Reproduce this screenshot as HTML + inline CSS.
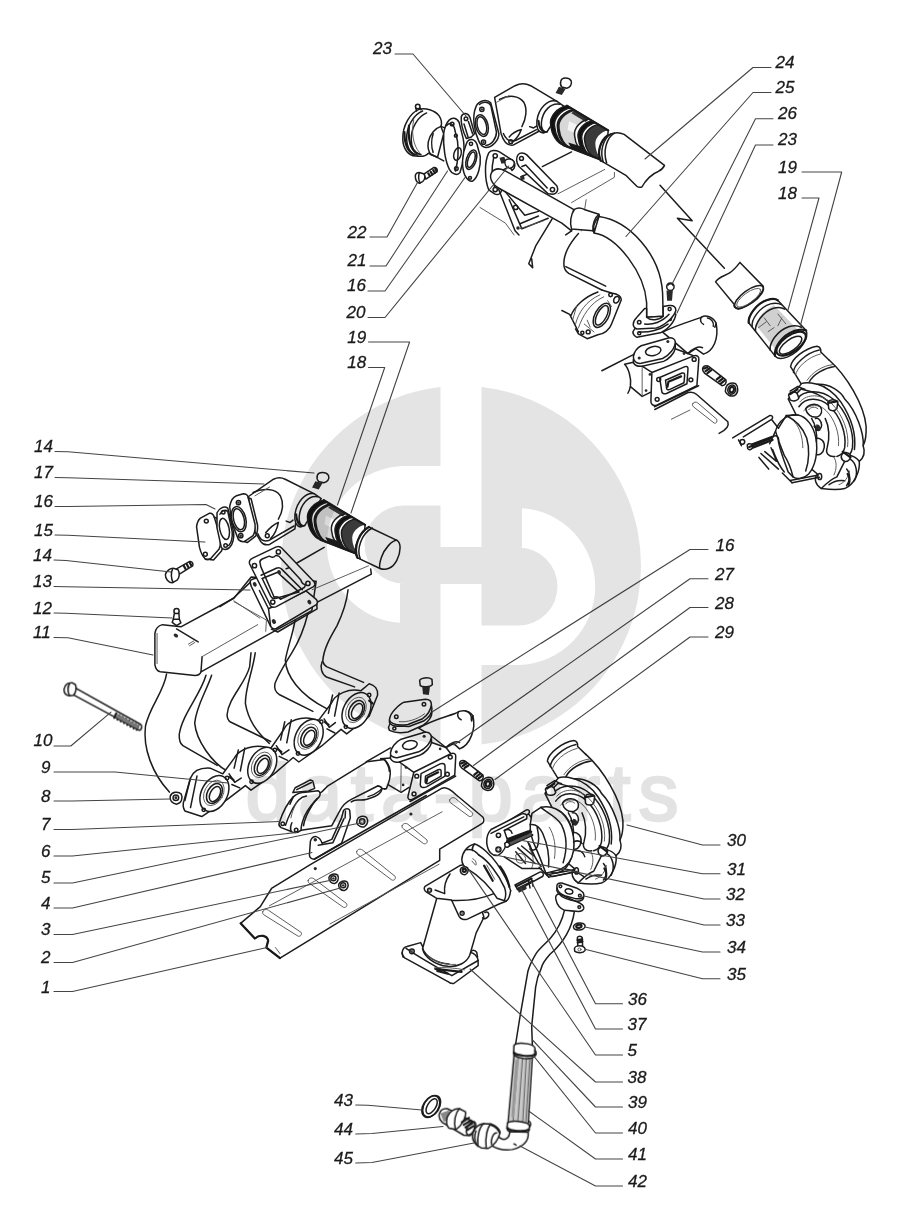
<!DOCTYPE html>
<html lang="ru">
<head>
<meta charset="utf-8">
<title>Parts diagram</title>
<style>
html,body{margin:0;padding:0;background:#fff;}
body{width:924px;height:1232px;overflow:hidden;font-family:"Liberation Sans",sans-serif;}
svg{display:block;position:absolute;left:0;top:0;}
.lbl text{font-family:"Liberation Sans",sans-serif;font-style:italic;font-size:17px;fill:#1a1a1a;stroke:#1a1a1a;stroke-width:0.3;}
.ld{fill:none;stroke:#444;stroke-width:1.1;stroke-linecap:round;stroke-linejoin:round;}
.p{fill:none;stroke:#1c1c1c;stroke-width:1.5;stroke-linecap:round;stroke-linejoin:round;}
.pw{fill:#fff;stroke:#1c1c1c;stroke-width:1.5;stroke-linecap:round;stroke-linejoin:round;}
.t{fill:none;stroke:#555;stroke-width:0.95;stroke-linecap:round;stroke-linejoin:round;}
.k{fill:#2a2a2a;stroke:none;}
.z path,.z circle,.z ellipse,.z line,.z polyline,.z rect{vector-effect:non-scaling-stroke;}
.g{fill:#bdbdbd;stroke:#2a2a2a;stroke-width:1.1;}
.b{fill:none;stroke:#1a1a1a;stroke-width:2.2;stroke-linecap:round;stroke-linejoin:round;}
.wm{font-family:"Liberation Sans",sans-serif;font-size:80px;fill:#e3e3e3;stroke:#e3e3e3;stroke-width:2.5;}
</style>
</head>
<body>
<svg width="924" height="1232" viewBox="0 0 924 1232">
<g id="art" style="filter:blur(0.55px)">
<!-- 10_topleft.svg -->
<g class="z" transform="translate(395,85) scale(0.16234)">
<!-- cap / valve 21 -->
<path class="pw" d="M148 150 C95 170 45 250 48 335 C50 395 85 440 130 437 C160 442 192 436 205 420 L222 428 L262 445 L300 300 L283 255 C290 235 285 210 272 190 C245 155 185 138 148 150Z"/>
<path class="p" d="M170 160 C118 180 68 255 72 335 C74 390 100 428 140 432"/>
<path class="p" d="M195 172 C140 195 98 265 100 335 C100 385 120 420 160 428"/>
<path class="b" d="M58 290 C58 360 80 412 118 430"/>
<path class="b" d="M86 250 C80 330 95 395 135 422"/>
<path class="t" d="M115 215 C100 290 110 370 150 415"/>
<path class="p" d="M283 255 C250 265 215 300 205 350 C200 385 205 410 222 428"/>
<path class="p" d="M235 300 C225 330 222 380 235 415"/>
<circle class="pw" cx="140" cy="132" r="14"/>
<path class="p" d="M128 142 L133 160 M153 140 L160 153"/>
<!-- neck to flange -->
<path class="p" d="M283 255 L335 275"/>
<path class="p" d="M222 428 C245 440 270 450 300 468"/>
<!-- flange 1 (on valve) -->
<path class="pw" d="M335 215 C350 198 380 200 395 230 L420 330 C430 380 425 470 400 540 C385 560 350 550 335 520 C310 470 295 380 300 300 C305 260 320 230 335 215Z"/>
<path class="p" d="M318 250 C335 230 355 235 365 262 L385 345 C392 400 388 470 372 530"/>
<circle class="p" cx="352" cy="240" r="11"/>
<circle class="p" cx="375" cy="312" r="9"/>
<circle class="p" cx="378" cy="515" r="11"/>
<ellipse class="p" cx="385" cy="425" rx="22" ry="40" transform="rotate(15 385 425)"/>
<!-- gasket 23 small top -->
<path class="pw" d="M408 195 C420 165 450 170 462 200 L490 300 L470 320 L440 330 C425 300 405 240 408 195Z"/>
<circle class="p" cx="437" cy="208" r="11"/>
<path class="p" d="M425 240 L450 320 M452 225 L478 300"/>
<!-- gasket 16 -->
<path class="pw" d="M440 360 C455 325 490 330 505 365 L525 440 C530 500 510 570 480 590 C465 600 445 585 430 555 C410 510 410 430 440 360Z"/>
<ellipse class="p" cx="470" cy="460" rx="30" ry="62" transform="rotate(18 470 460)"/>
<ellipse class="p" cx="470" cy="460" rx="20" ry="50" transform="rotate(18 470 460)"/>
<circle class="p" cx="468" cy="362" r="10"/>
<circle class="p" cx="462" cy="572" r="9"/>
<!-- big flange on elbow -->
<path class="pw" d="M500 130 C520 95 565 85 590 110 L640 300 C640 340 600 385 560 385 C545 385 525 370 518 350 C490 290 470 200 500 130Z"/>
<path class="p" d="M520 120 C540 100 575 100 590 125 L625 290 C625 330 595 370 560 372"/>
<ellipse class="p" cx="535" cy="250" rx="38" ry="68" transform="rotate(-14 535 250)"/>
<ellipse class="p" cx="535" cy="250" rx="28" ry="56" transform="rotate(-14 535 250)"/>
<circle class="p" cx="535" cy="150" r="13"/><circle class="k" cx="535" cy="150" r="7"/>
<circle class="p" cx="545" cy="352" r="13"/><circle class="k" cx="545" cy="352" r="7"/>
<!-- bolt 22 -->
<path class="pw" d="M125 560 C125 545 140 535 155 540 L180 548 C188 560 185 585 170 595 L150 605 C135 600 125 585 125 560Z"/>
<path class="p" d="M150 540 C142 560 145 590 155 603"/>
<path class="pw" d="M180 548 L240 508 C255 505 265 520 258 535 L190 580Z"/>
<path class="b" d="M205 545 L215 560 M220 535 L230 550 M235 525 L245 540 M248 515 L256 530"/>
</g>

<!-- 11_topelbow.svg -->
<g class="z" transform="translate(480,75) scale(0.19481)">
<!-- ghost manifold lines -->
<path class="p" d="M320 470 L470 395"/>
<path class="t" d="M400 610 L640 485 M470 655 L690 525 L690 500 M545 640 L520 800"/>
<!-- elbow body -->
<path class="pw" d="M75 115 L180 55 C205 42 235 42 260 55 L395 135 C340 150 290 230 300 290 L170 360 C140 365 120 340 108 300 Z"/>
<path class="p" d="M100 125 C150 100 200 105 225 140 C245 175 235 230 215 265"/>
<path class="t" d="M85 140 L150 105"/>
<path class="p" d="M120 300 C135 335 160 345 185 335 L290 280"/>
<path class="p" d="M150 318 C165 300 195 285 212 280 C205 300 185 330 165 345"/>
<circle class="p" cx="158" cy="342" r="10"/>
<path class="p" d="M255 265 L275 272 L290 262"/>
<!-- sleeve ring -->
<path class="pw" d="M395 135 C350 120 300 170 292 235 C288 270 300 295 325 298 L345 290 L430 160Z"/>
<path class="p" d="M410 150 C365 140 320 185 315 245 C312 275 325 295 345 292"/>
<path class="b" d="M300 235 C302 260 312 285 330 292"/>
<!-- bolt top -->
<path class="pw" d="M415 30 C420 12 455 10 468 30 C475 50 460 65 445 68 L420 62 C412 52 412 40 415 30Z"/>
<path class="k" d="M405 60 L440 70 L420 103 L388 92Z"/>
<!-- gasket 20 -->
<path class="pw" d="M45 400 C55 385 80 385 100 395 L170 440 C185 455 180 480 165 490 L150 470 L95 500 L110 580 C115 605 95 620 75 610 L45 590 C25 540 20 450 45 400Z"/>
<path class="p" d="M70 425 C60 470 60 530 75 575"/>
<circle class="p" cx="78" cy="415" r="11"/>
<circle class="p" cx="78" cy="588" r="11"/>
<!-- stud on gasket -->
<path class="k" d="M100 425 L125 420 L135 450 L110 455Z"/>
<path class="pw" d="M128 440 C140 425 165 430 175 445 C180 465 165 480 150 478 C135 475 125 460 128 440Z"/>
<!-- bracket plate -->
<path class="pw" d="M195 410 C205 398 225 398 240 410 L395 570 C405 590 395 610 375 612 L350 610 L200 470 C185 450 185 425 195 410Z"/>
<path class="p" d="M215 470 L235 462 L345 580 M215 520 L240 510"/>
<circle class="p" cx="213" cy="428" r="10"/>
<circle class="p" cx="372" cy="588" r="11"/>
<path class="k" d="M205 520 L225 515 L230 535 L210 540Z"/>
<!-- pipe 25 start -->
<path class="pw" d="M60 500 C75 480 100 478 125 490 L480 690 L470 800 L420 760 L95 580 C60 560 45 525 60 500Z"/>
<path class="p" d="M470 800 L440 821"/>
<!-- sleeve on pipe -->
<path class="pw" d="M485 690 C500 680 520 682 535 690 L610 715 C620 735 600 785 580 800 L470 790 C460 760 465 715 485 690Z"/>
<path class="p" d="M610 715 C590 730 575 770 580 800"/>
<path class="p" d="M612 735 L690 760 C730 775 760 800 790 821 M580 800 L640 821"/>
<!-- lower bracket (triangular) -->
<path class="p" d="M95 585 L180 800 L200 821 M130 600 L230 720 L300 700 M150 640 L215 790 L350 735"/>
<circle class="p" cx="183" cy="680" r="11"/>
<circle class="k" cx="195" cy="785" r="9"/>
<path class="t" d="M0 680 L130 760 L175 821"/>
</g>

<!-- 11c_coupling_u.svg -->
<g class="z" transform="translate(533.1,75.5) scale(0.14069)">
<path class="pw" d="M240 215 L534 390 L514 611 L215 495  Z"/>
<path d="M240 215 C170 230 115 290 125 350 C130 420 170 480 215 495 L241 505 C197 490 158 431 153 363 C143 304 197 245 266 230 Z" fill="#111" stroke="none"/>
<path d="M266 230 C197 245 143 304 153 363 C158 431 197 490 241 505 L260 512 C216 498 178 440 173 372 C163 314 216 256 284 241 Z" fill="#fff" stroke="none"/>
<path d="M284 241 C216 256 163 314 173 372 C178 440 216 498 260 512 L270 516 C227 502 189 444 184 377 C174 319 227 262 294 247 Z" fill="#222" stroke="none"/>
<path d="M294 247 C227 262 174 319 184 377 C189 444 227 502 270 516 L375 557 C335 544 300 491 295 428 C287 375 335 322 397 309 Z" fill="#d8d8d8" stroke="none"/>
<path d="M397 309 C335 322 287 375 295 428 C300 491 335 544 375 557 L399 566 C360 553 325 501 320 440 C312 388 360 335 420 322 Z" fill="#fff" stroke="none"/>
<path d="M420 322 C360 335 312 388 320 440 C325 501 360 553 399 566 L423 576 C385 563 350 512 346 452 C338 401 385 349 444 336 Z" fill="#111" stroke="none"/>
<path d="M444 336 C385 349 338 401 346 452 C350 512 385 563 423 576 L442 583 C404 570 371 520 366 461 C358 411 404 360 463 348 Z" fill="#fff" stroke="none"/>
<path d="M463 348 C404 360 358 411 366 461 C371 520 404 570 442 583 L514 611 C478 599 447 552 443 496 C435 449 478 401 534 390 Z" fill="#3a3a3a" stroke="none"/>
<path d="M270 516 L375 557 L367 512 L250 476 Z" fill="#1a1a1a"/>
<path d="M294 247 L397 309 L375 331 L272 269 Z" fill="#333"/>
<path d="M255 325 L310 350 L300 410 L245 388Z" fill="#f4f4f4"/>
<path class="p" d="M240 215 C170 230 115 290 125 350 C130 420 170 480 215 495"/>
<path class="p" d="M266 230 C197 245 143 304 153 363 C158 431 197 490 241 505"/>
<path class="p" d="M284 241 C216 256 163 314 173 372 C178 440 216 498 260 512"/>
<path class="p" d="M294 247 C227 262 174 319 184 377 C189 444 227 502 270 516"/>
<path class="p" d="M397 309 C335 322 287 375 295 428 C300 491 335 544 375 557"/>
<path class="p" d="M420 322 C360 335 312 388 320 440 C325 501 360 553 399 566"/>
<path class="p" d="M444 336 C385 349 338 401 346 452 C350 512 385 563 423 576"/>
<path class="p" d="M463 348 C404 360 358 411 366 461 C371 520 404 570 442 583"/>
<path class="b" d="M240 215 L534 390 M215 495 L514 611"/>

</g>

<!-- 11d_hose24.svg -->
<g class="z" transform="translate(480,75) scale(0.19481)">
<!-- hose 24 -->
<path class="pw" d="M655 310 C690 290 720 295 740 305 L947 464 C940 480 930 488 915 495 C885 505 850 540 831 575 C820 578 810 575 805 571 L751 517 L620 440 C600 400 615 340 655 310Z"/>
<path class="p" d="M690 298 C650 320 630 390 650 450"/>
<path class="p" d="M670 303 C632 328 615 390 632 445"/>
<path class="b" d="M655 310 C615 340 600 400 620 440"/>
</g>

<!-- 12_pipe25.svg -->
<g class="z" transform="translate(520,215) scale(0.19481)">
<!-- zigzag left -->
<path class="p" d="M0 45 L95 5 M165 20 L80 160 L45 250 L65 270 L60 225"/>
<path class="t" d="M0 70 L120 30"/>
<!-- break line top right -->

<!-- ghost runner -->
<path class="p" d="M300 95 C260 140 225 200 225 250 C225 275 235 290 250 300 L420 385"/>
<path class="p" d="M235 265 L440 365"/>
<!-- ghost port flange -->
<path class="p" d="M420 385 L470 400 C500 405 520 415 520 435 L470 560 C460 590 430 610 400 615 L345 635 L300 610 L285 585"/>
<path class="p" d="M215 490 L255 510 L300 600 M260 520 C280 470 330 420 400 395"/>
<path class="t" d="M285 560 C300 500 340 440 410 410 M300 580 C320 520 360 450 430 420 M270 540 L290 470"/>
<ellipse class="p" cx="420" cy="515" rx="35" ry="68" transform="rotate(28 420 515)"/>
<ellipse class="p" cx="420" cy="515" rx="24" ry="55" transform="rotate(28 420 515)"/>
<ellipse class="p" cx="495" cy="435" rx="13" ry="18" transform="rotate(28 495 435)"/>
<circle class="p" cx="465" cy="410" r="9"/>
<circle class="p" cx="350" cy="600" r="10"/><circle class="p" cx="320" cy="605" r="8"/>
<path class="t" d="M330 560 L380 600 M345 540 L360 575 M450 440 L470 470"/>
<!-- pipe 25 -->
<path class="pw" d="M405 8 C560 30 720 200 732 400 L735 520 L650 525 L650 450 C640 300 500 110 380 92 Z"/>
<path class="p" d="M405 8 C385 30 372 60 380 92"/>
<!-- pipe flange + gasket -->
<path class="pw" d="M585 590 C575 600 580 620 600 628 L720 605 C760 590 795 545 800 510 L785 500 L775 540 L600 570Z"/>
<path class="pw" d="M640 480 L600 525 C575 550 575 575 600 585 L700 580 C740 570 790 525 800 490 C802 470 785 462 765 465 L735 470 L735 520 L650 525 L650 480Z"/>
<path class="p" d="M650 525 C670 545 715 540 735 520"/>
<path class="p" d="M640 560 C680 565 730 550 765 510 M610 600 C660 605 720 590 760 560"/>
<circle class="p" cx="612" cy="550" r="9"/><circle class="p" cx="768" cy="483" r="8"/>
<circle class="p" cx="612" cy="607" r="8"/>
<!-- bolt 26 -->
<circle class="pw" cx="772" cy="368" r="19"/>
<path class="p" d="M760 360 C768 350 782 352 786 362"/>
<path class="k" d="M752 388 L785 385 L780 440 L755 440Z"/>
<!-- line under -->

</g>

<!-- 13_manif27u.svg -->
<g class="z" transform="translate(610,300) scale(0.19481)">
<path class="p" d="M-42 363 L130 275"/>
<!-- outlet elbow -->
<path class="pw" d="M270 165 C350 125 430 105 470 88 C490 75 530 85 545 120 C560 200 530 262 480 278 L440 250 L400 275 L330 215Z"/>
<path class="p" d="M470 88 C460 100 465 118 480 125 M500 92 C520 95 535 115 530 135 M545 120 L538 140"/>
<path class="p" d="M400 275 C420 250 455 235 475 245"/>
<!-- top flange -->
<path class="pw" d="M120 305 L120 322 C130 338 150 342 165 340 L275 315 C300 305 330 275 335 250 L335 215 Z"/>
<path class="pw" d="M120 290 C125 265 140 245 160 235 L300 195 C320 192 335 200 335 215 C335 245 305 285 270 300 L160 325 C135 328 118 312 120 290Z"/>
<ellipse class="p" cx="222" cy="262" rx="40" ry="23" transform="rotate(-12 222 262)"/>
<circle class="k" cx="150" cy="298" r="8"/><circle class="k" cx="297" cy="213" r="8"/>
<!-- body -->
<path class="p" d="M75 330 C95 350 110 400 105 440 C102 460 98 470 92 478 M105 445 L165 495 L215 470 M75 330 L120 320 M165 340 L215 372 M335 250 L400 275 L430 287"/>
<path class="t" d="M165 345 L165 490"/>
<circle class="k" cx="205" cy="382" r="7"/><circle class="k" cx="185" cy="465" r="7"/>
<circle class="k" cx="380" cy="275" r="7"/>
<!-- face flange -->
<path class="pw" d="M215 372 L430 287 C445 282 458 290 456 305 L446 440 L240 540 C220 545 208 535 210 518Z"/>
<path class="p" d="M228 548 L455 440"/>
<path class="p" d="M255 398 L385 342 C398 338 402 345 400 358 L395 430 L290 480 C275 485 265 478 265 465Z"/>
<path class="p" d="M285 412 L370 375 C380 372 384 378 383 388 L380 425 L305 460 C295 463 290 458 290 450Z"/>
<path class="b" d="M300 420 L365 392 M295 445 L300 420"/>
<circle class="p" cx="250" cy="408" r="10"/><circle class="p" cx="432" cy="305" r="10"/>
<circle class="p" cx="415" cy="410" r="10"/><circle class="p" cx="242" cy="510" r="10"/>
<!-- stud -->
<path class="pw" d="M478 345 C485 335 500 335 508 342 L595 410 C600 425 590 440 575 440 L485 375 C475 365 473 355 478 345Z"/>
<path class="b" d="M483 352 L500 345 M490 365 L510 352 M500 375 L520 360 M548 408 L568 392 M560 418 L580 402 M570 428 L590 412"/>
<!-- nut -->
<path class="pw" d="M595 450 C600 430 625 420 645 430 C660 445 660 475 640 490 C620 498 600 490 592 470Z"/>
<ellipse class="p" cx="625" cy="460" rx="20" ry="24" transform="rotate(20 625 460)"/>
<ellipse class="b" cx="625" cy="460" rx="11" ry="14" transform="rotate(20 625 460)"/>
<!-- flat piece -->
<path class="p" d="M230 562 L400 475 C420 470 435 475 445 485 L605 625 C612 645 600 665 560 685"/>
<path class="t" d="M425 532 C430 522 442 522 450 528 L548 612 C552 625 545 635 535 632 L428 548 C422 542 422 537 425 532Z M315 612 L410 565"/>
</g>

<!-- 14_coupling_u.svg -->
<g class="z" transform="translate(700,240) scale(0.19481)">
<!-- hose piece -->
<path class="pw" d="M80 215 C95 190 125 185 150 170 C175 155 190 135 205 115 L325 238 C335 275 235 350 195 355 C180 350 172 340 175 330Z"/>
<ellipse class="p" cx="252" cy="292" rx="88" ry="34" transform="rotate(-36 252 292)"/>
<ellipse class="t" cx="250" cy="296" rx="74" ry="26" transform="rotate(-36 250 296)"/>

<!-- coupling 18/19 -->
<path class="pw" d="M250 425 C245 390 290 325 345 308 C370 300 390 302 400 310 L545 465 C560 500 520 570 450 600 C420 612 395 608 385 595Z" fill="#e2e2e2"/>
<path d="M290 440 C295 400 330 355 380 335 L500 460 C440 480 400 520 390 565Z" fill="#d0d0d0"/>
<path class="b" d="M250 425 C245 390 290 325 345 308 C370 300 390 302 400 310"/>
<path class="p" d="M268 445 C262 408 305 345 362 328 C385 322 405 325 418 332"/>
<path class="p" d="M285 468 C280 430 322 368 378 350 C400 344 422 347 435 355"/>
<path class="p" d="M360 565 C355 530 395 465 455 445 C480 438 505 440 520 448"/>
<path class="b" d="M385 595 C378 555 420 490 480 468 C505 460 530 458 545 465"/>
<ellipse class="b" cx="468" cy="532" rx="88" ry="42" transform="rotate(-36 468 532)"/>
<ellipse class="p" cx="465" cy="540" rx="68" ry="28" transform="rotate(-36 465 540)"/>
<path class="t" d="M330 400 L360 440 M340 420 L300 450 M400 380 L440 430 M420 400 L400 440 M350 470 L380 450"/>
<!-- turbo inlet pipe (upper) -->
<path d="M465 650 C470 610 540 555 600 545 C615 548 622 560 620 575 L662 616 L700 700 L520 740Z" fill="#fff"/>
<path class="p" d="M520 740 L465 650 C470 610 540 555 600 545 C615 548 622 560 620 575 L662 616"/>
<path class="p" d="M480 680 C480 640 545 580 612 565"/>
<path class="t" d="M490 695 C495 655 555 600 618 585"/>
<path class="p" d="M560 730 C580 690 640 655 690 650"/>
<path class="t" d="M550 720 C575 680 630 645 680 640"/>
</g>

<!-- 15_turbo_u.svg -->
<g class="z" transform="translate(720,360) scale(0.19481)">
<!-- compressor volute -->
<path class="pw" d="M420 120 C450 110 480 120 500 125 C560 120 620 160 640 200 C700 260 740 380 735 440 C745 470 740 500 715 520 C720 570 690 640 640 660 C600 670 560 665 520 660 C490 640 480 610 500 585 L470 560 L400 300 L350 200Z"/>
<path class="p" d="M560 0 C650 80 740 230 750 340 C752 390 745 420 735 440"/>
<path class="p" d="M395 200 C430 150 520 150 580 200 C650 260 690 370 680 450 C675 480 660 495 640 500"/>
<path class="p" d="M405 240 C440 190 510 190 560 235 C620 290 650 380 640 450 C635 475 620 490 600 495"/>
<path class="t" d="M430 260 C460 225 510 225 545 260 C590 305 615 380 608 440"/>
<path class="p" d="M440 250 C455 225 495 220 515 240 C530 260 520 285 500 292 C470 298 445 280 440 250Z"/>
<path class="t" d="M455 255 C465 240 490 238 502 250"/>
<path class="p" d="M490 300 C505 295 520 310 522 335 C520 355 505 365 492 358"/>
<path class="p" d="M540 300 C560 340 565 400 550 450 C540 480 560 500 590 495"/>
<!-- bolts -->
<path class="pw" d="M352 180 C355 165 380 160 395 170 L405 195 C400 210 375 215 360 205Z"/>
<path class="p" d="M395 170 L420 145 L435 150 M360 160 L400 135 L420 145"/>
<path class="pw" d="M555 215 C565 200 590 200 605 215 L600 250 C590 265 565 262 558 250Z"/>
<path class="p" d="M420 150 C470 160 520 180 560 215"/>
<path class="pw" d="M625 485 C635 470 660 472 670 490 C672 510 655 525 638 520 C625 512 620 498 625 485Z"/>
<!-- bearing/lower housing -->
<path class="p" d="M640 520 L600 600 M670 510 C700 530 710 580 690 620 M650 560 C670 580 670 620 650 645 M520 660 C540 640 570 610 600 600 M560 640 C580 625 610 615 640 620"/>
<path class="p" d="M715 520 C700 500 690 495 670 490"/>
<!-- turbine housing -->
<path class="pw" d="M285 365 C300 310 350 275 400 282 C445 290 480 340 492 400 C505 470 490 545 455 585 C430 610 395 615 375 600 C365 560 350 520 330 490 C315 450 300 420 285 365Z"/>
<path class="p" d="M340 285 C370 300 420 330 445 400 C460 450 458 520 440 570"/>
<path class="t" d="M385 320 C410 350 425 400 425 450"/>
<path class="p" d="M300 350 L340 285 L400 282"/>
<path class="p" d="M492 400 C520 400 540 420 535 450 C530 480 510 490 495 485"/>
<!-- flange + studs -->
<path class="p" d="M65 400 L255 285 C270 282 275 295 265 305 L120 395 M95 410 L110 440 M265 305 L300 350"/>
<circle class="p" cx="115" cy="420" r="12"/>
<path class="b" d="M145 440 L265 395 M155 455 L270 410"/>
<path class="pw" d="M140 435 C150 425 165 430 168 445 C165 460 150 465 142 455Z"/>
<path class="p" d="M270 395 C290 380 305 395 300 420 C310 470 330 520 350 575 L375 600"/>
<path class="p" d="M210 480 L300 560 M230 470 L290 520 C280 490 270 470 262 450 M200 500 L250 560"/>
<path class="p" d="M370 630 L510 602 M360 618 L500 592"/>
<ellipse class="p" cx="512" cy="598" rx="10" ry="16"/>
<path class="p" d="M320 580 L370 630"/>
<!-- extra ink -->
<path class="p" d="M470 300 C490 330 500 380 495 420 M500 125 C540 135 590 170 620 215 C670 290 700 380 690 460"/>
<path class="t" d="M410 215 C450 170 520 175 570 220 C630 280 665 370 655 445 M585 500 C600 520 600 560 585 590 M610 640 C640 630 660 600 665 570"/>
<path class="b" d="M360 175 L398 150 M556 220 L600 212 M485 340 L505 360 M630 470 L670 500 M655 585 C665 600 668 620 660 640"/>
<path class="b" d="M150 447 L262 402"/>
<path class="k" d="M495 330 C510 330 520 345 515 362 C505 368 495 360 492 348Z"/>
<path class="p" d="M270 460 C285 500 300 540 330 575 M255 430 L285 365"/>
</g>

<!-- 16_breakline.svg -->
<g><path class="p" d="M660 185.3 L692.2 220.8 L677.4 218.2 L724.4 268.2"/></g>

<!-- 18_runners.svg -->
<g class="z" transform="translate(130,650) scale(0.28139)">
<!-- runners -->
<path class="p" d="M130 85 C120 150 70 200 55 270 C45 350 80 440 140 505"/>
<path class="p" d="M270 90 C250 160 185 230 175 300 C174 320 178 332 188 340 L310 410"/>
<path class="p" d="M290 90 C270 150 235 200 230 260 C235 320 290 400 345 430"/>
<path class="p" d="M430 10 L425 60 C410 120 350 170 345 230 C345 242 349 250 357 256 L500 325"/>
<path class="p" d="M445 10 C435 80 410 130 410 190 C420 250 450 290 495 332"/>
<path class="p" d="M632 -129 C620 -80 600 -30 575 10 C550 50 525 90 515 120 C512 135 518 150 530 158 L650 218"/>
<path class="p" d="M587 -109 C580 -60 560 -10 552 36 C555 90 600 160 702 210"/>
<path class="p" d="M775 -214 C770 -170 752 -120 735 -85 C712 -45 688 -5 685 40 C688 50 692 56 700 60 L830 115"/>
<path class="p" d="M683 41 C675 60 680 85 698 96 L798 131"/>
<!-- flange back plate (thickness) -->
<path class="pw" d="M215 455 C225 430 250 418 285 420 L330 440 L370 385 C390 350 440 335 480 345 L500 350 L545 285 C560 250 610 235 650 245 L670 250 L715 190 C730 155 780 135 820 145 L850 120 C870 125 882 140 880 160 L850 235 L770 298 L750 282 L680 342 L600 398 L580 382 L510 442 L430 498 L410 482 L345 532 L255 592 L195 572 C188 560 188 545 192 535Z"/>
<g id="lobe">
<ellipse class="pw" cx="300" cy="510" rx="46" ry="68" transform="rotate(28 300 510)"/>
<ellipse class="p" cx="300" cy="510" rx="25" ry="38" transform="rotate(28 300 510)"/>
<ellipse class="p" cx="302" cy="512" rx="17" ry="29" transform="rotate(28 302 512)"/>
<ellipse class="t" cx="298" cy="508" rx="33" ry="48" transform="rotate(28 298 508)"/>
<circle class="p" cx="262" cy="568" r="6"/><circle class="p" cx="345" cy="455" r="6"/>
<path class="p" d="M215 455 L195 535 M238 448 L215 560"/>
</g>
<g transform="translate(170,-100)">
<ellipse class="pw" cx="300" cy="510" rx="46" ry="68" transform="rotate(28 300 510)"/>
<ellipse class="p" cx="300" cy="510" rx="25" ry="38" transform="rotate(28 300 510)"/>
<ellipse class="p" cx="302" cy="512" rx="17" ry="29" transform="rotate(28 302 512)"/>
<ellipse class="t" cx="298" cy="508" rx="33" ry="48" transform="rotate(28 298 508)"/>
<circle class="p" cx="262" cy="568" r="6"/><circle class="p" cx="345" cy="455" r="6"/>
<path class="p" d="M215 455 L200 520 M238 448 L222 530"/>
</g>
<g transform="translate(335,-200)">
<ellipse class="pw" cx="300" cy="510" rx="46" ry="68" transform="rotate(28 300 510)"/>
<ellipse class="p" cx="300" cy="510" rx="25" ry="38" transform="rotate(28 300 510)"/>
<ellipse class="p" cx="302" cy="512" rx="17" ry="29" transform="rotate(28 302 512)"/>
<ellipse class="t" cx="298" cy="508" rx="33" ry="48" transform="rotate(28 298 508)"/>
<circle class="p" cx="262" cy="568" r="6"/><circle class="p" cx="345" cy="455" r="6"/>
<path class="p" d="M215 455 L200 520 M238 448 L222 530"/>
</g>
<g transform="translate(505,-295)">
<ellipse class="pw" cx="300" cy="510" rx="46" ry="68" transform="rotate(28 300 510)"/>
<ellipse class="p" cx="300" cy="510" rx="25" ry="38" transform="rotate(28 300 510)"/>
<ellipse class="p" cx="302" cy="512" rx="17" ry="29" transform="rotate(28 302 512)"/>
<ellipse class="t" cx="298" cy="508" rx="33" ry="48" transform="rotate(28 298 508)"/>
<circle class="p" cx="262" cy="568" r="6"/><circle class="p" cx="345" cy="455" r="6"/>
<path class="p" d="M215 455 L200 520 M238 448 L222 530"/>
</g>
<!-- clutter between lobes -->
<path class="p" d="M352 440 L372 470 L395 455 M362 478 L390 490 M520 340 L540 372 L565 355 M530 378 L560 392 M690 245 L708 275 L730 258 M700 280 L728 295"/>
<path class="b" d="M355 452 L368 462 M525 352 L538 362 M693 256 L706 266 M850 180 L862 190"/>
<!-- nut 8 -->
<path class="pw" d="M143 520 C148 505 170 500 182 512 C190 528 182 545 165 548 C150 545 140 535 143 520Z"/>
<circle class="p" cx="163" cy="525" r="10"/><circle class="k" cx="163" cy="525" r="5"/>
</g>

<!-- 19_plenum.svg -->
<g class="z" transform="translate(130,590) scale(0.21645)">
<!-- plenum top face + side -->
<path class="pw" d="M150 160 C130 165 118 180 115 200 L115 345 C118 365 125 375 140 378 L300 395 C315 395 325 388 328 378 L640 205 L840 95 L860 -40 L560 -60 L480 38 L235 170Z"/>
<path class="p" d="M328 378 L333 308"/>
<path class="t" d="M333 308 L590 160 M480 50 L600 130"/>
<path class="p" d="M215 180 L315 240"/>
<path class="t" d="M275 258 L300 242 M270 250 L295 235"/>
<ellipse class="k" cx="212" cy="210" rx="11" ry="8" transform="rotate(30 212 210)"/>
<path class="t" d="M125 200 L125 340"/>
<!-- fitting 12 -->
<circle class="pw" cx="215" cy="98" r="12"/>
<path class="pw" d="M205 108 L200 135 L195 150 L215 165 L235 152 L228 135 L226 108Z"/>
<path class="p" d="M200 135 L228 135"/>
</g>

<!-- 19b_plenum_end.svg -->
<g><path class="t" d="M312.2 589.7 L368.5 565.8"/><path class="p" d="M316.4 602.6 L371.3 574.2 L370.7 569"/></g>

<!-- 20_elbow17.svg -->
<g class="z" transform="translate(180,450) scale(0.19481)">
<!-- ghost lines -->
<path class="p" d="M600 580 L740 500"/>
<!-- cover 15 -->
<path class="pw" d="M85 395 C88 370 95 358 105 350 L150 325 C162 322 172 332 176 345 L205 440 C210 470 208 495 200 510 L160 555 C150 562 138 565 130 560 C115 545 105 520 100 500Z"/>
<path class="p" d="M176 345 L190 350 L220 450 C224 480 220 505 212 520 L172 565 L130 560"/>
<circle class="p" cx="135" cy="365" r="10"/><circle class="p" cx="130" cy="535" r="10"/>
<!-- gasket 16 -->
<path class="pw" d="M190 322 C200 300 225 285 245 298 L275 420 C280 450 270 485 255 500 C240 515 220 512 212 500 L190 400Z"/>
<path class="p" d="M205 330 C215 310 232 305 245 315 L268 420 C270 450 262 478 250 490"/>
<ellipse class="p" cx="228" cy="405" rx="24" ry="55" transform="rotate(-12 228 405)"/>
<circle class="p" cx="222" cy="320" r="9"/><circle class="p" cx="234" cy="490" r="9"/>
<!-- elbow body -->
<path class="pw" d="M350 240 L480 150 C500 140 520 140 540 150 L690 225 C640 240 600 290 590 405 L460 485 C440 490 425 485 415 470 L385 420Z"/>
<path class="p" d="M375 218 C420 195 490 195 515 235 C535 275 525 320 505 355"/>
<path class="t" d="M385 235 L460 190"/>
<path class="p" d="M400 430 C410 460 430 472 455 465 L585 390"/>
<path class="p" d="M440 425 C460 400 485 380 505 372 C500 400 485 435 465 455"/>
<circle class="p" cx="448" cy="440" r="10"/>
<path class="p" d="M545 365 L565 372 L580 360"/>
<!-- elbow flange -->
<path class="pw" d="M255 290 C262 255 275 240 290 235 L325 225 C340 225 348 232 350 245 L385 380 C388 410 382 428 375 440 L330 470 C318 472 308 468 300 460 L265 370Z"/>
<path class="p" d="M350 245 L365 250 L398 385 C400 410 395 430 388 442 L345 475 L330 470"/>
<ellipse class="p" cx="302" cy="355" rx="36" ry="66" transform="rotate(-14 302 355)"/>
<ellipse class="p" cx="302" cy="355" rx="27" ry="55" transform="rotate(-14 302 355)"/>
<circle class="p" cx="300" cy="270" r="11"/><circle class="k" cx="300" cy="270" r="6"/>
<circle class="p" cx="312" cy="440" r="11"/><circle class="k" cx="312" cy="440" r="6"/>
<!-- sleeve ring -->
<path class="pw" d="M690 225 C645 215 600 265 590 330 C586 365 596 392 618 395 L640 388 L725 250Z"/>
<path class="p" d="M705 240 C660 232 618 280 612 340 C608 372 620 392 640 388"/>
<path class="b" d="M596 330 C598 358 606 382 624 390"/>
<!-- bolt 14 top -->
<path class="pw" d="M705 130 C712 112 748 110 762 130 C770 150 755 165 738 168 L712 162 C702 152 702 140 705 130Z"/>
<path class="k" d="M695 160 L732 170 L712 203 L678 192Z"/>
<!-- bolt 14 left -->
<path class="pw" d="M-20 612 L50 572 C62 570 70 582 65 595 L-5 638Z"/>
<path class="pw" d="M-75 640 C-70 620 -50 605 -30 608 L-10 615 C0 630 -2 655 -15 668 L-40 682 C-60 680 -75 662 -75 640Z"/>
<path class="p" d="M-38 610 C-48 630 -46 662 -35 680"/>
<path class="b" d="M20 595 L28 610 M35 587 L43 602 M50 578 L58 593"/>
</g>

<!-- 20b_gasket13.svg -->
<g class="z" transform="translate(220,530) scale(0.14069)">
<!-- plenum flange (lower frame) -->
<path class="pw" d="M215 375 C212 362 220 352 235 348 L300 330 L620 440 L680 490 C692 500 695 515 688 528 L400 700 C385 706 368 700 360 685 L222 400Z"/>
<path class="p" d="M360 685 L345 560 M688 528 L690 560 L410 725 L365 705"/>
<ellipse class="k" cx="247" cy="386" rx="13" ry="17" transform="rotate(-30 247 386)"/>
<ellipse class="k" cx="635" cy="513" rx="13" ry="17" transform="rotate(-30 635 513)"/>
<ellipse class="k" cx="383" cy="650" rx="14" ry="18" transform="rotate(-30 383 650)"/>
<path class="p" d="M280 430 L345 560 L600 440"/>
<!-- gasket 13 (upper frame) -->
<path class="pw" d="M210 240 C205 222 215 208 232 200 L400 120 C415 114 430 118 440 130 L670 370 C678 382 675 395 665 402 L400 545 C385 552 370 550 360 540Z"/>
<path class="pw" d="M285 235 C280 222 288 212 300 206 L350 186 C365 196 385 196 395 182 C410 180 425 190 432 200 L575 355 C580 375 590 385 605 388 C606 400 600 410 590 414 L430 492 C420 478 400 470 385 478 L290 260Z"/>
<circle class="p" cx="245" cy="254" r="15"/><circle class="p" cx="415" cy="156" r="15"/>
<circle class="p" cx="625" cy="380" r="15"/><circle class="p" cx="375" cy="512" r="15"/>
<!-- seen through opening: plenum flange opening -->
<path class="p" d="M292 322 L400 272 C415 266 430 270 440 280 L585 425 M300 345 L410 300 M410 300 L440 330 L560 440"/>
<path class="p" d="M300 345 L360 470 C368 485 385 490 400 485 L560 440"/>
<ellipse class="k" cx="420" cy="300" rx="13" ry="16" transform="rotate(-30 420 300)"/>
<path class="p" d="M470 275 L490 268"/>
<!-- plenum edge lines -->
<path class="p" d="M215 372 L100 480 L0 545"/>
<path class="t" d="M100 510 L330 640 L325 720"/>
</g>

<!-- 20c_coupling_l.svg -->
<g class="z" transform="translate(290,470) scale(0.14069)">
<path class="pw" d="M240 215 L534 390 L514 611 L215 495  Z"/>
<path d="M240 215 C170 230 115 290 125 350 C130 420 170 480 215 495 L241 505 C197 490 158 431 153 363 C143 304 197 245 266 230 Z" fill="#111" stroke="none"/>
<path d="M266 230 C197 245 143 304 153 363 C158 431 197 490 241 505 L260 512 C216 498 178 440 173 372 C163 314 216 256 284 241 Z" fill="#fff" stroke="none"/>
<path d="M284 241 C216 256 163 314 173 372 C178 440 216 498 260 512 L270 516 C227 502 189 444 184 377 C174 319 227 262 294 247 Z" fill="#222" stroke="none"/>
<path d="M294 247 C227 262 174 319 184 377 C189 444 227 502 270 516 L375 557 C335 544 300 491 295 428 C287 375 335 322 397 309 Z" fill="#d8d8d8" stroke="none"/>
<path d="M397 309 C335 322 287 375 295 428 C300 491 335 544 375 557 L399 566 C360 553 325 501 320 440 C312 388 360 335 420 322 Z" fill="#fff" stroke="none"/>
<path d="M420 322 C360 335 312 388 320 440 C325 501 360 553 399 566 L423 576 C385 563 350 512 346 452 C338 401 385 349 444 336 Z" fill="#111" stroke="none"/>
<path d="M444 336 C385 349 338 401 346 452 C350 512 385 563 423 576 L442 583 C404 570 371 520 366 461 C358 411 404 360 463 348 Z" fill="#fff" stroke="none"/>
<path d="M463 348 C404 360 358 411 366 461 C371 520 404 570 442 583 L514 611 C478 599 447 552 443 496 C435 449 478 401 534 390 Z" fill="#3a3a3a" stroke="none"/>
<path d="M270 516 L375 557 L367 512 L250 476 Z" fill="#1a1a1a"/>
<path d="M294 247 L397 309 L375 331 L272 269 Z" fill="#333"/>
<path d="M255 325 L310 350 L300 410 L245 388Z" fill="#f4f4f4"/>
<path class="p" d="M240 215 C170 230 115 290 125 350 C130 420 170 480 215 495"/>
<path class="p" d="M266 230 C197 245 143 304 153 363 C158 431 197 490 241 505"/>
<path class="p" d="M284 241 C216 256 163 314 173 372 C178 440 216 498 260 512"/>
<path class="p" d="M294 247 C227 262 174 319 184 377 C189 444 227 502 270 516"/>
<path class="p" d="M397 309 C335 322 287 375 295 428 C300 491 335 544 375 557"/>
<path class="p" d="M420 322 C360 335 312 388 320 440 C325 501 360 553 399 566"/>
<path class="p" d="M444 336 C385 349 338 401 346 452 C350 512 385 563 423 576"/>
<path class="p" d="M463 348 C404 360 358 411 366 461 C371 520 404 570 442 583"/>
<path class="b" d="M240 215 L534 390 M215 495 L514 611"/>
<path class="pw" d="M560 405 L760 500 C790 515 790 580 760 640 C730 700 680 715 640 700 L480 625 C450 590 460 480 560 405Z"/>
<path class="p" d="M760 500 C725 500 670 560 650 620 C635 665 635 690 640 700"/>
<path class="p" d="M585 412 C510 450 470 560 500 632"/>
<path class="b" d="M560 405 C490 440 450 550 480 625"/>
</g>

<!-- 22_bolt10.svg -->
<g class="z" transform="translate(50,670) scale(0.12987)">
<path class="pw" d="M195 138 L700 420 C712 432 708 455 690 465 L175 188Z"/>
<path class="pw" d="M108 150 C112 115 140 95 170 98 L195 112 C208 135 200 175 180 195 L150 198 C125 195 108 175 108 150Z"/>
<path class="p" d="M150 108 C135 130 135 170 150 195"/>
<path class="b" d="M510 335 L495 368 M535 348 L520 382 M560 362 L545 395 M585 376 L570 408 M610 390 L595 422 M635 403 L620 436 M660 417 L645 450 M682 430 L668 460"/>
<path d="M520 338 L690 430 L675 455 L505 365Z" fill="#777"/>
</g>

<!-- 29_shield.svg -->
<g class="z" transform="translate(230,790) scale(0.30303)">
<path class="pw" d="M35 440 L100 385 L137 325 L265 246 L700 -6 C715 -12 730 0 745 15 L835 90 C840 100 838 108 830 112 L692 195 L692 232 L165 555 L120 520 L126 497 C122 480 100 475 82 490Z"/>
<path class="b" d="M35 440 L82 490 C100 475 122 480 126 497 L120 520 L165 555"/>
<path class="t" d="M130 382 L700 72 M330 442 L690 245 M150 520 L165 540"/>
<path class="t" d="M108 402 C110 394 120 392 127 397 L235 470 C238 478 232 485 224 482 L112 412 C108 409 107 406 108 402Z"/>
<path class="t" d="M258 298 C260 290 270 288 277 293 L385 375 C388 383 382 390 374 387 L262 308 C258 305 257 302 258 298Z"/>
<path class="t" d="M418 203 C420 195 430 193 437 198 L545 285 C548 293 542 300 534 297 L422 213 C418 210 417 207 418 203Z"/>
<path class="t" d="M568 118 C570 110 580 108 587 113 L650 165 C653 173 647 180 639 177 L572 128 C568 125 567 122 568 118Z"/>
<path class="t" d="M725 33 C727 25 737 23 744 28 L800 75 C803 83 797 90 789 87 L729 43 C725 40 724 37 725 33Z"/>
</g>

<!-- 30_manif27l.svg -->
<g class="z" transform="translate(370,670) scale(0.19481)">
<!-- body lines from left -->
<path class="p" d="M-20 472 L105 400 M55 455 C80 480 95 520 95 560 C92 585 85 600 75 612 M-10 650 C30 640 75 610 95 560 M95 590 L160 628 L200 602"/>
<!-- outlet elbow -->
<path class="pw" d="M250 298 C330 252 400 238 440 222 C460 205 505 200 528 235 C545 300 515 385 460 405 L430 378 L390 398 L310 335Z"/>
<path class="p" d="M455 215 C445 228 450 248 468 255 M490 210 C512 215 525 235 520 258 M528 235 L522 262"/>
<path class="p" d="M390 398 C410 375 440 362 460 372"/>
<!-- top flange -->
<path class="pw" d="M105 440 L105 455 C115 470 135 475 150 472 L255 438 C285 425 312 395 316 372 L315 345Z"/>
<path class="pw" d="M105 425 C108 400 130 370 160 355 L280 320 C300 316 314 325 315 345 C312 375 285 405 250 420 L140 450 C118 452 103 440 105 425Z"/>
<ellipse class="p" cx="205" cy="385" rx="38" ry="22" transform="rotate(-12 205 385)"/>
<circle class="k" cx="135" cy="420" r="8"/><circle class="k" cx="278" cy="340" r="8"/>
<!-- body -->
<path class="p" d="M105 452 L55 455 M150 472 L225 525 M316 372 L390 398 L415 430"/>
<path class="t" d="M160 480 L158 625"/>
<circle class="k" cx="185" cy="500" r="7"/><circle class="k" cx="170" cy="590" r="7"/><circle class="k" cx="360" cy="405" r="7"/>
<!-- face flange -->
<path class="pw" d="M225 525 L415 430 C430 424 442 430 440 445 L435 540 L215 665 C200 668 192 660 195 648Z"/>
<path class="p" d="M205 675 L440 545"/>
<path class="p" d="M262 532 L360 482 C375 476 386 482 385 495 L385 545 L290 600 C272 608 258 602 258 588Z"/>
<path class="p" d="M285 545 L350 512 C360 508 366 512 365 522 L365 545 L300 582 C290 586 283 582 283 572Z"/>
<path class="b" d="M295 552 L350 525 M290 575 L295 552"/>
<circle class="p" cx="240" cy="545" r="10"/><circle class="p" cx="412" cy="447" r="10"/>
<circle class="p" cx="397" cy="535" r="10"/><circle class="p" cx="226" cy="636" r="10"/>
<!-- stud -->
<path class="pw" d="M462 472 C468 462 482 462 492 470 L580 540 C586 555 575 570 560 568 L470 502 C460 492 458 482 462 472Z"/>
<path class="b" d="M468 480 L485 472 M476 492 L495 480 M486 502 L505 490 M535 538 L555 522 M546 548 L566 532 M556 558 L576 542"/>
<!-- nut -->
<path class="pw" d="M575 575 C580 555 605 545 625 555 C640 570 640 600 620 615 C600 623 580 615 572 595Z"/>
<ellipse class="p" cx="605" cy="585" rx="20" ry="24" transform="rotate(20 605 585)"/>
<ellipse class="b" cx="605" cy="585" rx="11" ry="14" transform="rotate(20 605 585)"/>
<!-- cover gasket -->
<path class="pw" d="M95 295 C100 275 115 255 135 240 L290 205 L318 215 C318 240 300 265 270 285 L195 318 C160 325 120 320 100 310Z"/>
<circle class="p" cx="125" cy="300" r="8"/>
<!-- cover plate 16 -->
<path class="pw" d="M100 258 L100 270 C110 285 130 290 150 288 L200 290 L275 262 C300 245 318 220 318 200 L315 180Z"/>
<path class="pw" d="M100 255 C102 235 115 215 130 200 C145 185 160 172 175 165 L285 150 C305 150 316 160 315 178 C312 205 295 232 270 250 L195 280 C160 285 135 283 120 275 C108 270 100 265 100 255Z"/>
<circle class="p" cx="135" cy="240" r="9"/><circle class="p" cx="277" cy="176" r="9"/>
<path class="t" d="M150 265 C190 270 240 255 280 225"/>
<!-- bolt -->
<path class="pw" d="M255 55 C258 40 300 35 318 48 L320 75 C310 88 270 90 258 80Z"/>
<path class="k" d="M268 85 L308 82 L302 128 L272 125Z"/>
</g>

<!-- 31_exh7.svg -->
<g class="z" transform="translate(250,740) scale(0.19481)">
<!-- manifold tube -->
<path class="pw" d="M370 265 L400 235 L600 112 L690 100 C720 130 735 170 700 250 L680 250 C672 238 665 235 655 236 L520 305 C490 320 470 345 460 365 L420 440 L270 462 L240 470 L200 380Z"/>
<path class="p" d="M655 236 C690 238 680 270 640 290 C610 303 580 310 560 308 C540 306 530 310 520 318"/>
<path class="p" d="M690 100 C705 120 715 140 715 160"/>
<!-- bracket behind top of flange -->
<path class="pw" d="M220 270 L232 245 L310 205 L322 210 L332 248 L300 262Z"/>
<path class="p" d="M240 255 L315 218"/>
<!-- flange face -->
<path class="pw" d="M150 425 C165 380 195 320 222 292 C240 275 260 268 285 268 L350 260 C362 268 362 282 355 292 C330 315 300 350 280 390 C268 420 262 445 262 462 C250 475 230 478 212 470 L160 450 C148 442 146 435 150 425Z"/>
<path class="p" d="M182 438 C195 395 225 335 250 308 C262 296 275 290 290 288"/>
<path class="p" d="M222 292 L205 330 M212 470 C205 455 208 440 215 425"/>
<path class="p" d="M275 440 C280 400 310 340 345 300"/>
<circle class="p" cx="168" cy="430" r="9"/><circle class="p" cx="237" cy="462" r="9"/>
<path class="t" d="M240 320 C225 345 215 375 210 400"/>
<!-- bracket 4 -->
<path class="pw" d="M310 520 C315 505 328 495 340 496 C355 500 365 515 370 530 L420 510 L470 400 L480 362 C490 350 508 350 512 362 L515 400 L470 530 L330 612 C315 612 305 602 305 590Z"/>
<path class="p" d="M350 540 L425 528 L482 405 M490 365 L488 400"/>
<circle class="k" cx="335" cy="512" r="9"/>
<!-- nut 5 -->
<path class="pw" d="M550 410 C555 392 580 385 598 397 C608 412 605 435 588 445 C570 450 552 440 548 425Z"/>
<circle class="p" cx="576" cy="418" r="14"/><circle class="t" cx="576" cy="418" r="8"/>
<!-- heat shield edges -->
<path class="p" d="M330 612 L905 285"/>
<circle class="k" cx="335" cy="660" r="8"/><circle class="k" cx="826" cy="380" r="8"/>
<!-- nuts 2,3 -->
<path class="pw" d="M405 705 C410 688 435 682 450 694 C458 710 452 730 436 736 C418 738 404 725 405 705Z"/>
<circle class="p" cx="428" cy="710" r="13"/><circle class="k" cx="428" cy="710" r="6"/>
<path class="pw" d="M455 742 C460 725 485 718 500 730 C508 746 502 766 486 772 C468 774 454 762 455 742Z"/>
<circle class="p" cx="478" cy="746" r="13"/><circle class="k" cx="478" cy="746" r="6"/>
</g>

<!-- 38_oilpipe.svg -->
<g>
<path class="pw" d="M564.7 909.4 C562 922 556 932 550 938.7 C543 946 538 950 535.6 954.3 C531 962 529 967 527.8 971.8 L520 1016.6 L515 1048 L532.5 1049 L531.7 1026.4 L535.6 987.4 C536.5 981 538 975 541.4 967.9 C542 964 545 960 550 954.3 C563 943 572 928 574.4 911.3Z"/>
</g>

<!-- 39_elbow38.svg -->
<g class="z" transform="translate(370,890) scale(0.19481)">
<!-- bottom flange -->
<path class="pw" d="M165 320 C168 300 178 292 190 290 L260 270 L275 300 L515 320 C535 325 550 340 555 360 L555 388 L430 480 C418 482 408 478 400 470 L178 348 C168 340 164 330 165 320Z"/>
<path class="p" d="M165 322 L170 345 M185 300 C230 330 330 390 420 440 L555 362"/>
<circle class="p" cx="215" cy="315" r="12"/><circle class="t" cx="215" cy="315" r="6"/>
<path class="b" d="M335 405 L470 420 M345 415 L400 430"/>
<path class="t" d="M330 400 C380 395 440 400 485 410"/>
<path class="p" d="M515 320 C520 305 540 305 548 320 L552 345"/>
<!-- body -->
<path class="pw" d="M345 35 L270 300 C275 340 330 385 400 392 C450 395 495 375 512 335 L545 220 L585 140 L560 60 L400 20Z"/>
<path class="p" d="M270 300 C285 340 340 375 405 380"/>
<path class="t" d="M290 330 C320 365 380 385 440 382"/>
</g>

<!-- 39b_elbow38top.svg -->
<g class="z" transform="translate(400,830) scale(0.15152)">
<!-- plate -->
<path class="pw" d="M395 235 L165 372 C155 385 160 400 175 410 L240 450 L340 462 L390 570 C400 590 425 595 445 588 L650 490 L700 470 L730 400 L560 200Z"/>
<circle class="p" cx="195" cy="398" r="13"/><circle class="t" cx="195" cy="398" r="7"/>
<circle class="p" cx="410" cy="550" r="13"/><circle class="t" cx="410" cy="550" r="7"/>
<path class="p" d="M330 290 C300 330 290 380 295 420 L232 396"/>
<path class="p" d="M340 465 C440 470 550 450 620 420"/>
<path class="p" d="M560 545 C575 535 590 545 585 565 C575 585 555 590 545 580"/>
<!-- top flange (to turbo) -->
<path class="pw" d="M408 195 C410 150 440 105 492 92 C530 100 600 165 640 222 C680 280 715 345 730 400 C725 440 715 462 700 470 L640 450 C600 380 520 300 450 260 C425 245 408 225 408 195Z"/>
<path class="p" d="M440 130 C470 125 500 140 520 165 M492 92 C480 105 475 120 478 135"/>
<path class="p" d="M520 165 C580 200 650 290 690 380 C700 410 700 440 690 462"/>
<path class="b" d="M555 235 L612 335"/>
<path class="t" d="M572 230 L625 325 M480 190 C495 195 505 210 503 228 M475 205 L498 232"/>
<path class="b" d="M660 240 C690 280 712 330 722 375"/>
<!-- nut -->
<path class="pw" d="M398 262 C402 243 428 236 446 250 C455 268 446 290 428 296 C408 294 396 280 398 262Z"/>
<circle class="b" cx="424" cy="266" r="11"/>
</g>

<!-- 40_turbo_l.svg -->
<g class="z" transform="translate(456.8,634.4) scale(0.19481)">
<!-- turbo inlet pipe (upper) -->
<path d="M465 650 C470 610 540 555 600 545 C615 548 622 560 620 575 L662 616 L700 700 L520 740Z" fill="#fff"/>
<path class="p" d="M520 740 L465 650 C470 610 540 555 600 545 C615 548 622 560 620 575 L662 616"/>
<path class="p" d="M480 680 C480 640 545 580 612 565"/>
<path class="t" d="M490 695 C495 655 555 600 618 585"/>
<path class="p" d="M560 730 C580 690 640 655 690 650"/>
<path class="t" d="M550 720 C575 680 630 645 680 640"/>
</g>
<g class="z" transform="translate(476.8,754.4) scale(0.19481)">
<!-- compressor volute -->
<path class="pw" d="M420 120 C450 110 480 120 500 125 C560 120 620 160 640 200 C700 260 740 380 735 440 C745 470 740 500 715 520 C720 570 690 640 640 660 C600 670 560 665 520 660 C490 640 480 610 500 585 L470 560 L400 300 L350 200Z"/>
<path class="p" d="M560 0 C650 80 740 230 750 340 C752 390 745 420 735 440"/>
<path class="p" d="M395 200 C430 150 520 150 580 200 C650 260 690 370 680 450 C675 480 660 495 640 500"/>
<path class="p" d="M405 240 C440 190 510 190 560 235 C620 290 650 380 640 450 C635 475 620 490 600 495"/>
<path class="t" d="M430 260 C460 225 510 225 545 260 C590 305 615 380 608 440"/>
<path class="p" d="M440 250 C455 225 495 220 515 240 C530 260 520 285 500 292 C470 298 445 280 440 250Z"/>
<path class="t" d="M455 255 C465 240 490 238 502 250"/>
<path class="p" d="M490 300 C505 295 520 310 522 335 C520 355 505 365 492 358"/>
<path class="p" d="M540 300 C560 340 565 400 550 450 C540 480 560 500 590 495"/>
<!-- bolts -->
<path class="pw" d="M352 180 C355 165 380 160 395 170 L405 195 C400 210 375 215 360 205Z"/>
<path class="p" d="M395 170 L420 145 L435 150 M360 160 L400 135 L420 145"/>
<path class="pw" d="M555 215 C565 200 590 200 605 215 L600 250 C590 265 565 262 558 250Z"/>
<path class="p" d="M420 150 C470 160 520 180 560 215"/>
<path class="pw" d="M625 485 C635 470 660 472 670 490 C672 510 655 525 638 520 C625 512 620 498 625 485Z"/>
<!-- bearing/lower housing -->
<path class="p" d="M640 520 L600 600 M670 510 C700 530 710 580 690 620 M650 560 C670 580 670 620 650 645 M520 660 C540 640 570 610 600 600 M560 640 C580 625 610 615 640 620"/>
<path class="p" d="M715 520 C700 500 690 495 670 490"/>
<!-- turbine housing -->
<path class="pw" d="M285 365 C300 310 350 275 400 282 C445 290 480 340 492 400 C505 470 490 545 455 585 C430 610 395 615 375 600 C365 560 350 520 330 490 C315 450 300 420 285 365Z"/>
<path class="p" d="M340 285 C370 300 420 330 445 400 C460 450 458 520 440 570"/>
<path class="t" d="M385 320 C410 350 425 400 425 450"/>
<path class="p" d="M300 350 L340 285 L400 282"/>
<path class="p" d="M492 400 C520 400 540 420 535 450 C530 480 510 490 495 485"/>
<!-- flange + studs -->
<path class="p" d="M65 400 L255 285 C270 282 275 295 265 305 L120 395 M95 410 L110 440 M265 305 L300 350"/>
<circle class="p" cx="115" cy="420" r="12"/>
<path class="b" d="M145 440 L265 395 M155 455 L270 410"/>
<path class="pw" d="M140 435 C150 425 165 430 168 445 C165 460 150 465 142 455Z"/>
<path class="p" d="M270 395 C290 380 305 395 300 420 C310 470 330 520 350 575 L375 600"/>
<path class="p" d="M210 480 L300 560 M230 470 L290 520 C280 490 270 470 262 450 M200 500 L250 560"/>
<path class="p" d="M370 630 L510 602 M360 618 L500 592"/>
<ellipse class="p" cx="512" cy="598" rx="10" ry="16"/>
<path class="p" d="M320 580 L370 630"/>
<!-- extra ink -->
<path class="p" d="M470 300 C490 330 500 380 495 420 M500 125 C540 135 590 170 620 215 C670 290 700 380 690 460"/>
<path class="t" d="M410 215 C450 170 520 175 570 220 C630 280 665 370 655 445 M585 500 C600 520 600 560 585 590 M610 640 C640 630 660 600 665 570"/>
<path class="b" d="M360 175 L398 150 M556 220 L600 212 M485 340 L505 360 M630 470 L670 500 M655 585 C665 600 668 620 660 640"/>
<path class="b" d="M150 447 L262 402"/>
<path class="k" d="M495 330 C510 330 520 345 515 362 C505 368 495 360 492 348Z"/>
<path class="p" d="M270 460 C285 500 300 540 330 575 M255 430 L285 365"/>
</g>

<!-- 40b_turbo_l_housing.svg -->
<g class="z" transform="translate(480,790) scale(0.17316)">
<path class="pw" d="M300 135 L352 100 C400 90 450 105 490 150 C530 200 550 280 540 350 C530 410 500 445 460 460 L380 480 C365 440 345 385 325 340 C300 290 288 240 290 200Z"/>
<path class="p" d="M290 200 C320 195 345 215 362 250 C388 310 402 380 396 445"/>
<path class="p" d="M352 100 C380 130 440 150 470 200 C500 260 505 340 480 420"/>
<path class="t" d="M400 215 C430 260 440 330 430 395"/>
<path class="p" d="M540 300 C560 290 580 295 590 310 M545 350 C575 345 600 360 605 385"/>
<path class="p" d="M330 215 C340 260 345 300 330 330 C320 350 300 350 290 340"/>
<path class="p" d="M460 460 C500 450 560 470 600 500 M380 480 L420 500 L560 470"/>
</g>

<!-- 41_turbo_l_extra.svg -->
<g class="z" transform="translate(440,810) scale(0.19481)">
<!-- turbine inlet flange -->
<path class="pw" d="M240 170 C238 140 245 118 262 100 L420 20 C440 15 450 25 445 45 L330 105 L345 150 C340 190 330 215 300 232 C270 240 245 215 240 170Z"/>
<path class="p" d="M262 120 L430 35 M330 105 C350 95 365 100 370 120"/>
<circle class="p" cx="300" cy="130" r="11"/><circle class="p" cx="300" cy="203" r="13"/><circle class="t" cx="300" cy="203" r="7"/>
<!-- studs upper -->
<path class="b" d="M340 170 L468 112 M348 186 L474 128"/>
<path d="M345 172 L465 118 L472 130 L352 184Z" fill="#555"/>
<path class="pw" d="M332 172 C340 160 355 165 358 178 C355 192 340 196 334 186Z"/>
<!-- inner detail of turbine -->
<path class="t" d="M390 230 C410 215 435 225 440 250 C435 275 410 280 395 265Z M460 200 C480 230 485 270 470 300"/>
<path class="p" d="M330 240 L420 300 L520 300"/>
<!-- studs lower -->
<path class="pw" d="M385 385 L515 318 C528 316 535 328 528 340 L400 410Z"/>
<path class="b" d="M392 392 L470 352 M398 405 L476 365"/>
<path class="p" d="M470 355 L478 392 M455 365 L462 400"/>
<path class="k" d="M395 400 L440 380 L445 405 L405 425Z"/>
<!-- oil flange 33 + gasket -->
<path class="pw" d="M595 460 C590 445 598 432 612 430 L700 470 C725 480 740 492 738 505 C735 518 720 522 700 520 L640 515 C615 505 600 485 595 460Z"/>
<path class="pw" d="M600 395 C598 380 610 372 625 375 L700 400 C725 412 742 428 738 442 C732 455 715 458 695 455 L640 440 C615 430 602 415 600 395Z"/>
<path class="p" d="M600 400 L600 415 C610 440 640 455 670 462 L700 468 C722 468 738 460 738 445"/>
<ellipse class="p" cx="662" cy="418" rx="20" ry="13" transform="rotate(15 662 418)"/>
<circle class="p" cx="618" cy="392" r="7"/><circle class="p" cx="718" cy="440" r="7"/>
<circle class="p" cx="715" cy="498" r="7"/>
<!-- washer 34 -->
<ellipse class="pw" cx="715" cy="598" rx="30" ry="18" transform="rotate(-8 715 598)"/>
<ellipse class="b" cx="713" cy="597" rx="14" ry="8" transform="rotate(-8 713 597)"/>
<!-- bolt 35 -->
<path class="pw" d="M705 655 C708 645 725 645 730 655 L732 700 L708 702Z"/>
<path class="b" d="M706 668 L730 664 M707 680 L731 676"/>
<path class="pw" d="M690 712 C692 700 710 695 728 698 C742 702 748 712 744 722 C735 735 705 735 692 726Z"/>
<circle class="t" cx="716" cy="716" r="8"/>
</g>

<!-- 50_hose.svg -->
<g class="z" transform="translate(410,1020) scale(0.17316)">
<!-- oil pipe lower part -->
<!-- hose 41 -->
<path d="M605 150 L710 160 L682 612 L565 600Z" fill="#c9c9c9" stroke="#1c1c1c" stroke-width="1.35"/>
<path class="t" d="M625 200 L595 580 M650 215 L622 590 M672 210 L650 600 M692 220 L668 600 M612 300 L600 450"/>
<path d="M608 230 L628 232 L600 560 L585 558Z" fill="#999"/>
<!-- clamps -->
<path class="pw" d="M600 150 C600 138 625 130 660 135 C695 138 720 150 722 165 L720 205 C715 220 690 225 655 222 C620 218 598 205 598 192Z"/>
<path class="b" d="M600 188 C610 205 690 215 720 200"/>
<path class="p" d="M720 175 C730 180 732 200 722 208"/>
<path class="pw" d="M562 598 C562 588 590 582 625 586 C660 590 688 600 690 612 L686 640 C680 655 655 660 620 656 C585 652 560 640 560 628Z"/>
<path class="b" d="M562 622 C575 640 655 650 688 632"/>
<path class="p" d="M688 585 C698 590 700 610 690 618"/>
<!-- elbow 42 -->
<path class="pw" d="M575 645 C575 685 545 698 520 682 L498 650 L465 720 C500 745 545 755 590 748 C650 735 688 700 682 648Z"/>
<path class="p" d="M600 715 L612 722"/>
<!-- nut 45 -->
<path class="pw" d="M362 650 C372 620 400 600 425 598 L465 600 C490 610 515 630 520 650 C510 690 485 725 450 742 L410 738 C385 725 362 700 360 675Z"/>
<path class="p" d="M425 598 C400 620 385 670 392 730 M465 600 C445 625 432 680 440 740"/>
<path class="p" d="M380 640 C370 670 372 700 385 722"/>
<path class="b" d="M470 605 C495 615 512 632 518 650"/>
<path class="p" d="M500 652 C480 650 465 690 470 718"/>
<!-- fitting 44 -->
<path class="pw" d="M170 540 C175 520 195 510 215 512 L370 590 C380 610 370 650 345 668 L310 665 L185 590 C170 575 165 555 170 540Z"/>
<path d="M175 540 L225 520 L235 560 L195 590Z" fill="#888"/>
<path class="pw" d="M215 560 C225 530 255 510 285 512 L320 530 C325 560 300 610 265 632 L225 625 C210 610 208 585 215 560Z"/>
<path class="p" d="M285 512 C262 535 250 585 262 630"/>
<path class="b" d="M300 590 L340 565 M310 605 L352 580 M320 620 L360 596 M330 635 L366 612"/>
<ellipse class="p" cx="352" cy="625" rx="22" ry="42" transform="rotate(28 352 625)"/>
<!-- washer 43 -->
<ellipse class="pw" cx="125" cy="498" rx="44" ry="68" transform="rotate(32 125 498)"/>
<ellipse class="p" cx="125" cy="498" rx="24" ry="48" transform="rotate(32 125 498)"/>
<ellipse class="p" cx="120" cy="500" rx="44" ry="68" transform="rotate(32 120 500)"/>
</g>

<!-- 80_leaders.svg -->
<g class="ld">
<!-- left upper -->
<path d="M55 451.5 L68 451.8 L314 473"/>
<path d="M55 477.5 L68 477.8 L264 484"/>
<path d="M55 506.5 L68 506.5 L206 504.5 L215 509"/>
<path d="M55 535 L68 535.3 L205 542"/>
<path d="M54 560 L66 560.5 L171 572"/>
<path d="M54 586.5 L66 586.7 L250 590"/>
<path d="M54 613 L66 613.3 L172 618"/>
<path d="M54 637.5 L68 637.8 L153 655"/>
<!-- left lower -->
<path d="M54 746 L70.8 746 L111 712.2"/>
<path d="M54 772 L115 772 L228 783"/>
<path d="M54 801 L72 801 L170 799"/>
<path d="M54 829.5 L72 829.5 L280 821.5"/>
<path d="M54 856 L72.5 856 L297 832.5"/>
<path d="M54 883 L72.5 883 L360 823"/>
<path d="M54 908 L72.5 908 L312 852.5"/>
<path d="M54 934.5 L72.5 934.5 L332 880"/>
<path d="M54 962.5 L72.5 962.5 L342 887.5"/>
<path d="M54 991.5 L72.5 991.5 L267 947.5"/>
<!-- top-left group -->
<path d="M395 54 L413 54 L466 116"/>
<path d="M370 237 L387 237 L417.5 182.5"/>
<path d="M370 266 L386 266 L447.5 171"/>
<path d="M368 291 L385 291 L465 177.5"/>
<path d="M368 317.5 L385 317.5 L508.7 166"/>
<path d="M368.5 342 L409.6 342 L351 513"/>
<path d="M368.5 367.5 L384.7 367.5 L337.5 505"/>
<!-- top-right group -->
<path d="M771 67.5 L753 67.5 L645 159"/>
<path d="M771 92.5 L753 92.5 L626 236.5"/>
<path d="M773 118.7 L755.5 118.7 L672.6 283"/>
<path d="M773 145 L755.5 145 L677 313"/>
<path d="M802 172 L841.7 172 L800.5 325"/>
<path d="M802 198 L819 198 L788 310"/>
<!-- right middle -->
<path d="M708 549.5 L690 549.5 L432 712"/>
<path d="M708 578.7 L690 578.7 L454 745"/>
<path d="M708 607.5 L690 607.5 L473.5 765.5"/>
<path d="M708 637 L690 637 L495 779.5"/>
<!-- right lower -->
<path d="M720 845 L702.5 845 L627 825"/>
<path d="M720 873.7 L702.5 873.7 L520.8 840.2"/>
<path d="M720 899 L704 899 L494.5 854.8"/>
<path d="M720 925 L704 925 L583.2 895.7"/>
<path d="M720 952 L702.5 952 L585 927"/>
<path d="M720 978.7 L702.5 978.7 L585 949.3"/>
<path d="M622.5 1003.7 L595.5 1003.7 L531.6 882"/>
<path d="M622.5 1029 L595.5 1029 L520.8 888"/>
<path d="M622.5 1055 L595.5 1055 L469.2 870.4"/>
<path d="M622.5 1082 L595.5 1082 L470 969"/>
<path d="M622.5 1107 L595.5 1107 L532.5 1040"/>
<path d="M622.5 1133 L595.5 1133 L533.7 1056"/>
<path d="M622.5 1159 L595.5 1159 L528.7 1111"/>
<path d="M622.5 1186 L595.5 1186 L520 1146"/>
<!-- bottom-left -->
<path d="M355.7 1105 L368 1105.3 L422 1110"/>
<path d="M355.7 1134 L372 1133.5 L443 1126.5"/>
<path d="M355.7 1163 L372 1162.5 L474 1143"/>
</g>

<!-- 90_labels.svg -->
<g class="lbl">
<!-- left column upper -->
<text x="34" y="452">14</text>
<text x="34" y="478">17</text>
<text x="34" y="507">16</text>
<text x="34" y="535.7">15</text>
<text x="33" y="560.7">14</text>
<text x="33" y="587">13</text>
<text x="33" y="613.7">12</text>
<text x="33" y="638">11</text>
<!-- left column lower -->
<text x="33.5" y="746">10</text>
<text x="41" y="773">9</text>
<text x="41" y="801.7">8</text>
<text x="41" y="830">7</text>
<text x="41" y="856.7">6</text>
<text x="41" y="883">5</text>
<text x="41" y="908.5">4</text>
<text x="41" y="935">3</text>
<text x="41" y="963">2</text>
<text x="41" y="992.5">1</text>
<!-- top-left group -->
<text x="373" y="54.3">23</text>
<text x="347.5" y="237.5">22</text>
<text x="347.5" y="266">21</text>
<text x="347" y="291">16</text>
<text x="346.5" y="317.5">20</text>
<text x="347.3" y="343">19</text>
<text x="347.3" y="368">18</text>
<!-- top-right group -->
<text x="775.5" y="67.5">24</text>
<text x="775.5" y="92.5">25</text>
<text x="778" y="118.7">26</text>
<text x="778" y="145">23</text>
<text x="778" y="172.5">19</text>
<text x="778" y="198.7">18</text>
<!-- right middle -->
<text x="715.5" y="551">16</text>
<text x="715" y="580">27</text>
<text x="715" y="608.7">28</text>
<text x="715" y="638">29</text>
<!-- right lower -->
<text x="727" y="846">30</text>
<text x="727" y="874.5">31</text>
<text x="726" y="899.5">32</text>
<text x="726" y="925.5">33</text>
<text x="727" y="952.5">34</text>
<text x="727" y="979.5">35</text>
<text x="628" y="1004.5">36</text>
<text x="627.5" y="1030">37</text>
<text x="627.5" y="1056">5</text>
<text x="627.5" y="1083.3">38</text>
<text x="628" y="1108.3">39</text>
<text x="628" y="1133.7">40</text>
<text x="628" y="1160">41</text>
<text x="628" y="1187">42</text>
<!-- bottom left -->
<text x="334" y="1106">43</text>
<text x="334" y="1135">44</text>
<text x="334" y="1164">45</text>
</g>

<!-- 95_watermark.svg -->
</g>
<g id="watermark" style="mix-blend-mode:multiply">
<circle cx="461" cy="565.7" r="180" fill="#e4e4e4"/>
<rect x="440.5" y="380" width="41" height="167" fill="#fff"/>
<rect x="440.5" y="584" width="41" height="166" fill="#fff"/>
<path d="M441 466 H403.5 A78.5 78.5 0 0 0 400 622.8 V583.5 H403.5 A39 39 0 0 1 403.5 505.5 H441 Z" fill="#fff"/>
<path d="M481 665 H518.5 A78.5 78.5 0 0 0 522 508.2 V547.5 H518.5 A39 39 0 0 1 518.5 625.5 H481 Z" fill="#fff"/>
<text class="wm" x="245.5" y="820" textLength="433" lengthAdjust="spacing">data-parts</text>
</g>

</svg>
</body>
</html>
